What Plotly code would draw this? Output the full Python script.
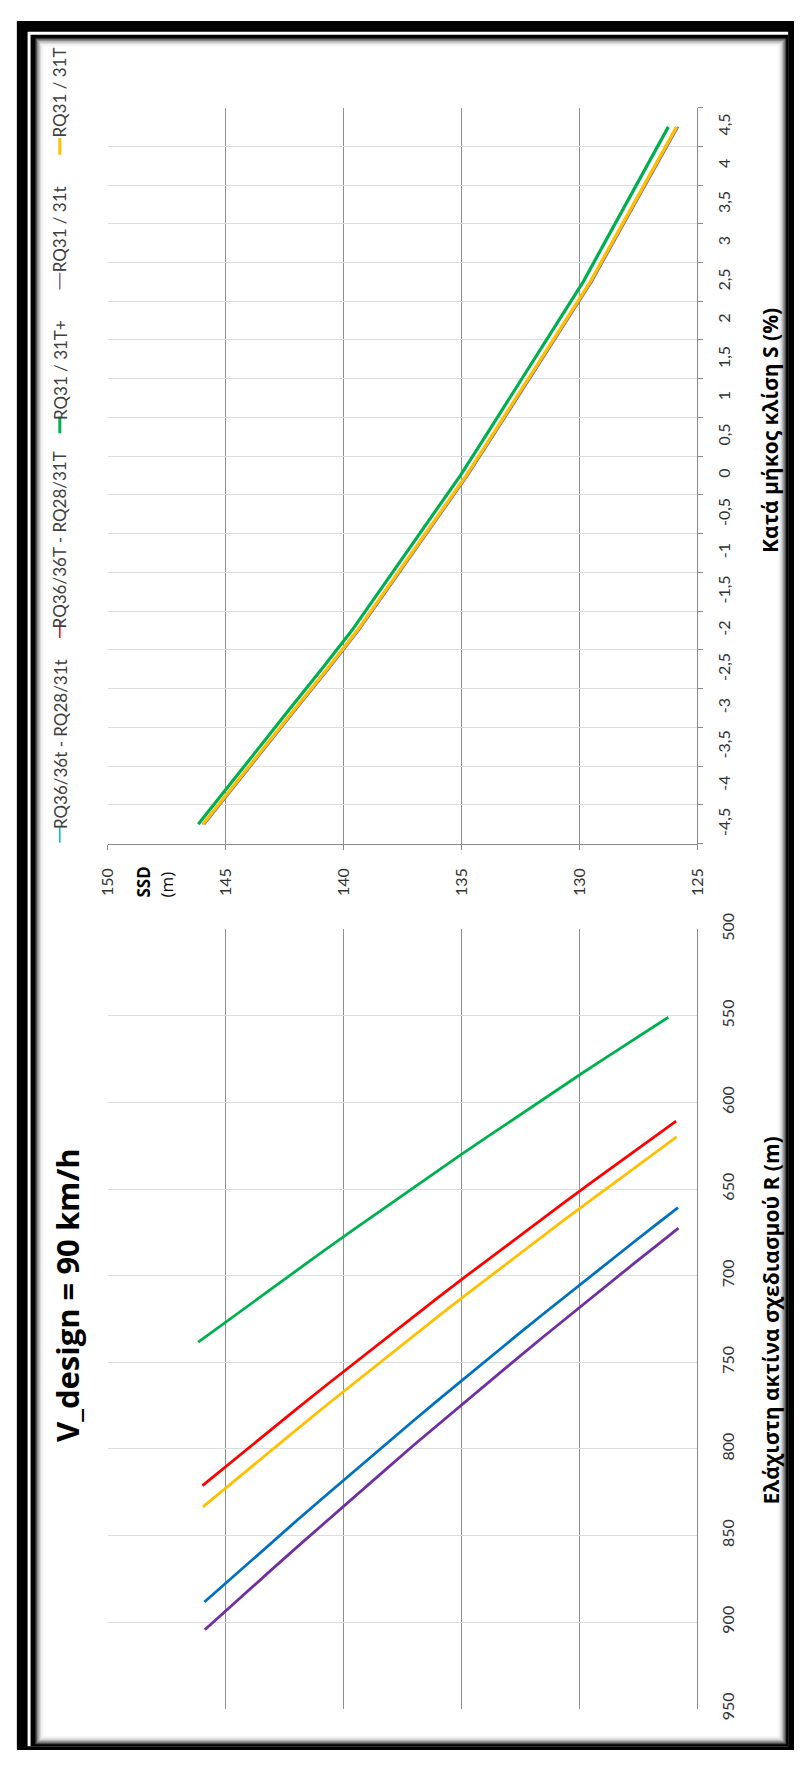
import plotly.graph_objects as go

# Longitudinal grade S (%) and its axis labels (decimal comma)
slopes = [-4.5, -4.0, -3.5, -3.0, -2.5, -2.0, -1.5, -1.0, -0.5, 0.0,
          0.5, 1.0, 1.5, 2.0, 2.5, 3.0, 3.5, 4.0, 4.5]
slope_labels = ["-4,5", "-4", "-3,5", "-3", "-2,5", "-2", "-1,5", "-1", "-0,5", "0",
                "0,5", "1", "1,5", "2", "2,5", "3", "3,5", "4", "4,5"]

# Stopping sight distance SSD (m) per grade
ssd_rq36t = [145.90, 144.60, 143.28, 141.97, 140.64, 139.36, 138.20, 137.05, 135.89, 134.74,
             133.68, 132.63, 131.56, 130.50, 129.48, 128.57, 127.65, 126.75, 125.82]
ssd_rq36T = [145.98, 144.68, 143.36, 142.05, 140.72, 139.44, 138.28, 137.13, 135.97, 134.82,
             133.76, 132.71, 131.64, 130.58, 129.56, 128.65, 127.73, 126.83, 125.90]
ssd_rq31Tp = [146.16, 144.87, 143.56, 142.25, 140.93, 139.65, 138.50, 137.35, 136.20, 135.05,
              134.00, 132.96, 131.90, 130.85, 129.84, 128.94, 128.03, 127.14, 126.23]
ssd_rq31t = [145.88, 144.58, 143.26, 141.95, 140.62, 139.34, 138.18, 137.03, 135.87, 134.72,
             133.66, 132.61, 131.54, 130.48, 129.46, 128.55, 127.63, 126.73, 125.80]
ssd_rq31T = [145.96, 144.66, 143.34, 142.03, 140.70, 139.42, 138.26, 137.11, 135.95, 134.80,
             133.74, 132.69, 131.62, 130.56, 129.54, 128.63, 127.71, 126.81, 125.88]

# Minimum design radius R (m) per grade
r_rq36t = [888.4, 872.6, 856.8, 841.2, 825.6, 810.6, 797.2, 783.9, 770.7, 757.7,
           745.9, 734.2, 722.4, 710.8, 699.8, 689.9, 680.1, 670.5, 660.7]
r_rq36T = [821.2, 806.6, 792.0, 777.6, 763.1, 749.3, 736.9, 724.6, 712.4, 700.4,
           689.5, 678.7, 667.8, 657.1, 646.9, 637.8, 628.7, 619.9, 610.8]
r_rq31Tp = [738.4, 725.5, 712.4, 699.4, 686.5, 674.1, 663.1, 652.1, 641.2, 630.4,
            620.7, 611.1, 601.4, 591.8, 582.7, 574.7, 566.6, 558.7, 550.8]
r_rq31t = [904.4, 888.3, 872.3, 856.4, 840.4, 825.2, 811.5, 797.9, 784.5, 771.3,
           759.3, 747.4, 735.4, 723.6, 712.3, 702.3, 692.3, 682.6, 672.5]
r_rq31T = [833.5, 818.7, 803.9, 789.3, 774.5, 760.5, 747.9, 735.5, 723.1, 710.9,
           699.8, 688.9, 677.8, 666.9, 656.6, 647.3, 638.1, 629.2, 619.9]

series_names = ["RQ36/36t - RQ28/31t", "RQ36/36T - RQ28/31T", "RQ31 / 31T+", "RQ31 / 31t", "RQ31 / 31T"]
ssd_tick_vals = [150, 145, 140, 135, 130, 125]
r_tick_vals = [500, 550, 600, 650, 700, 750, 800, 850, 900, 950]

W, H = 802, 1766


def px(x):
    return x / W


def py(y):
    return 1 - y / H


TICK_FONT = dict(family="Lato, Open Sans, sans-serif", size=16, color="#333333")
AXIS_GREY = "#898989"
MAJOR_GRID = "#8f8f8f"
MINOR_GRID = "#dcdcdc"

fig = go.Figure()

# Upper panel: SSD against grade
upper_styles = [
    (ssd_rq36t, "#00B0F0", 1.5),
    (ssd_rq36T, "#FF0000", 1.5),
    (ssd_rq31Tp, "#00B050", 3.2),
    (ssd_rq31t, "#8064A2", 1.5),
    (ssd_rq31T, "#FFC000", 3.2),
]
for name, (ssd, color, width) in zip(series_names, upper_styles):
    fig.add_trace(go.Scatter(x=ssd, y=slope_labels, mode="lines", name=name,
                             line=dict(color=color, width=width),
                             xaxis="x", yaxis="y", showlegend=False))

# Lower panel: design radius against SSD
lower_styles = [
    (ssd_rq36t, r_rq36t, "#0070C0"),
    (ssd_rq36T, r_rq36T, "#FF0000"),
    (ssd_rq31Tp, r_rq31Tp, "#00B050"),
    (ssd_rq31t, r_rq31t, "#7030A0"),
    (ssd_rq31T, r_rq31T, "#FFC000"),
]
for name, (ssd, rad, color) in zip(series_names, lower_styles):
    fig.add_trace(go.Scatter(x=ssd, y=rad, mode="lines", name=name,
                             line=dict(color=color, width=2.8),
                             xaxis="x2", yaxis="y2", showlegend=False))

x_domain = [px(99), px(703)]

fig.update_layout(
    width=W, height=H,
    margin=dict(l=0, r=0, t=0, b=0),
    paper_bgcolor="white",
    plot_bgcolor="white",
    showlegend=False,
    xaxis=dict(domain=x_domain, anchor="y", range=[150, 125],
               tickmode="array", tickvals=ssd_tick_vals, tickangle=-90,
               ticks="outside", ticklen=5, tickcolor=AXIS_GREY, ticklabelstandoff=12,
               showline=True, linecolor=AXIS_GREY, linewidth=1.3,
               showgrid=True, gridcolor=MAJOR_GRID, gridwidth=1.4,
               zeroline=False, tickfont=TICK_FONT),
    yaxis=dict(domain=[py(841), py(93)], anchor="x", side="right",
               type="category", categoryorder="array", categoryarray=slope_labels,
               range=[-0.5, len(slope_labels) - 0.5],
               tickson="boundaries", tickangle=-90,
               ticks="outside", ticklen=5, tickcolor=AXIS_GREY, ticklabelstandoff=12,
               showline=True, linecolor=AXIS_GREY, linewidth=1.3,
               showgrid=True, gridcolor=MINOR_GRID, gridwidth=1.4,
               zeroline=False, tickfont=TICK_FONT),
    xaxis2=dict(domain=x_domain, anchor="y2", range=[150, 125],
                tickmode="array", tickvals=ssd_tick_vals, showticklabels=False, ticks="",
                showline=False, showgrid=True, gridcolor=MAJOR_GRID, gridwidth=1.4,
                zeroline=False),
    yaxis2=dict(domain=[py(1720), py(928)], anchor="x2", side="right",
                range=[950, 500], tickmode="array", tickvals=r_tick_vals, tickangle=-90,
                ticks="", ticklabelstandoff=16,
                showline=True, linecolor=AXIS_GREY, linewidth=1.3,
                showgrid=True, gridcolor=MINOR_GRID, gridwidth=1.4,
                zeroline=False, tickfont=TICK_FONT),
)

# Picture frame: thick black border, inner rule and soft inner shadow
frame = [
    dict(x0=6, y0=5, x1=802, y1=1762, fill="black"),
    dict(x0=17, y0=16, x1=796, y1=1758, fill="white"),
    dict(x0=20, y0=19, x1=796, y1=1758, fill="black"),
    dict(x0=25, y0=22.5, x1=794, y1=1756, fill="#4a4a4a"),
    dict(x0=26.5, y0=24, x1=792.5, y1=1754.5, fill="#8a8a8a"),
    dict(x0=28, y0=25.5, x1=791, y1=1753, fill="#b8b8b8"),
    dict(x0=29.5, y0=27, x1=789.5, y1=1751.5, fill="#dcdcdc"),
    dict(x0=31, y0=28.5, x1=788, y1=1750, fill="#f2f2f2"),
    dict(x0=33, y0=30.5, x1=786, y1=1748, fill="white"),
]
shapes = []
for f in frame:
    shapes.append(dict(type="rect", xref="paper", yref="paper", layer="below",
                       x0=px(f["x0"]), x1=px(f["x1"]), y0=py(f["y1"]), y1=py(f["y0"]),
                       fillcolor=f["fill"], line=dict(width=0)))

# Legend of the upper panel, laid out along the left edge
LEGEND_X = 50
legend_keys = [
    ("#00B0F0", 1.5, 823, 840, 740),
    ("#FF0000", 1.5, 615, 632, 532),
    ("#00B050", 3.0, 407, 424, 360),
    ("#8064A2", 1.5, 261, 278, 217),
    ("#FFC000", 3.0, 124, 141, 78),
]
annotations = []
for name, (color, width, k0, k1, tc) in zip(series_names, legend_keys):
    shapes.append(dict(type="line", xref="paper", yref="paper",
                       x0=px(LEGEND_X), x1=px(LEGEND_X), y0=py(k1), y1=py(k0),
                       line=dict(color=color, width=width)))
    annotations.append(dict(text=name, textangle=-90, x=px(LEGEND_X), y=py(tc),
                            xref="paper", yref="paper", showarrow=False,
                            xanchor="center", yanchor="middle",
                            font=dict(family="Lato, Open Sans, sans-serif", size=17, color="#404040")))

annotations += [
    dict(text="<b>V_design = 90 km/h</b>", textangle=-90, x=px(58), y=py(1300),
         xref="paper", yref="paper", showarrow=False, xanchor="center", yanchor="middle",
         font=dict(family="Open Sans, sans-serif", size=31, color="black")),
    dict(text="<b>Κατά μήκος κλίση S (%)</b>", textangle=-90, x=px(778), y=py(421),
         xref="paper", yref="paper", showarrow=False, xanchor="center", yanchor="middle",
         font=dict(family="Open Sans, sans-serif", size=21, color="black")),
    dict(text="<b>Ελάχιστη ακτίνα σχεδιασμού R (m)</b>", textangle=-90, x=px(778), y=py(1326),
         xref="paper", yref="paper", showarrow=False, xanchor="center", yanchor="middle",
         font=dict(family="Open Sans, sans-serif", size=21, color="black")),
    dict(text="<b>SSD</b><br>(m)", textangle=-90, x=px(147), y=py(880),
         xref="paper", yref="paper", showarrow=False, xanchor="center", yanchor="middle",
         align="left", font=dict(family="Open Sans, sans-serif", size=17, color="black")),
]

fig.update_layout(shapes=shapes, annotations=annotations)

fig.write_html("out.html")
